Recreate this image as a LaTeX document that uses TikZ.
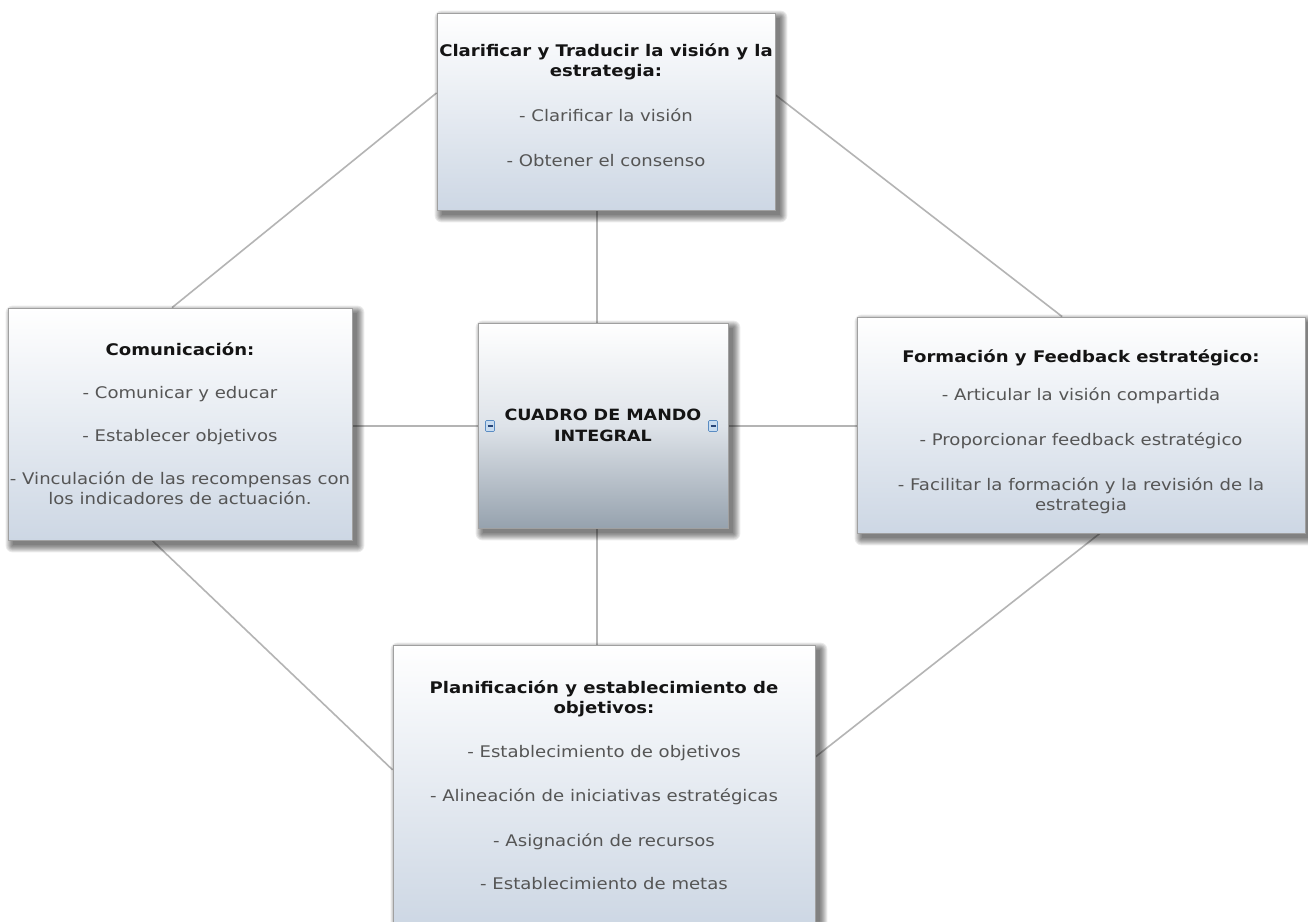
\documentclass[tikz,border=0pt]{standalone}
\usepackage{fontspec}
\setmainfont{DejaVu Sans}[FakeStretch=1.13]
\usetikzlibrary{calc,backgrounds}

\definecolor{edgegray}{RGB}{160,160,160}
\definecolor{linkgray}{RGB}{180,180,180}
\definecolor{boxbottom}{RGB}{205,215,228}
\definecolor{hubmid}{RGB}{222,227,233}
\definecolor{hubbottom}{RGB}{150,162,174}
\definecolor{titlecol}{RGB}{20,20,20}
\definecolor{itemcol}{RGB}{85,85,85}
\definecolor{iconfill}{RGB}{200,220,240}
\definecolor{iconedge}{RGB}{90,140,195}
\definecolor{icondash}{RGB}{40,70,120}

\newcommand{\ttl}[1]{{\bfseries\color{titlecol}#1}}
\newcommand{\itm}[1]{{\color{itemcol}#1}}

% soft shadow below and right of a panel, built from stacked translucent rectangles
\newcommand{\castshadow}[1]{%
  \foreach \r in {0,1,...,7}{%
    \fill[black, opacity=0.08, rounded corners=\r pt]
      ($(#1.north west)+(5-\r,5-\r)$) rectangle ($(#1.south east)+(5+\r,5+\r)$);
  }}

\tikzset{
  panel/.style={draw=edgegray, line width=0.8pt, top color=white, bottom color=boxbottom,
    align=center, inner sep=0pt, font=\fontsize{16}{20}\selectfont},
  hub/.style={panel, top color=white, bottom color=hubbottom, middle color=hubmid,
    font=\fontsize{15.5}{20.5}\selectfont\bfseries\color{titlecol}},
  link/.style={draw=linkgray, line width=1.6pt},
  toggle/.style={draw=iconedge, fill=iconfill, minimum width=9pt, minimum height=11pt,
    inner sep=0pt, line width=0.6pt, rounded corners=1pt,
    path picture={\draw[icondash, line width=1.4pt]
      ($(path picture bounding box.west)+(2pt,0pt)$) -- ($(path picture bounding box.east)+(-2pt,0pt)$);}}
}

\begin{document}
\begin{tikzpicture}[x=1pt,y=-1pt]
\useasboundingbox (0,0) rectangle (1308,921);
\clip (0,0) rectangle (1308,921);

% the five panels
\node[panel, minimum width=338pt, minimum height=197pt] (T) at (606,111.5)
  {\ttl{Clarificar y Traducir la visión y la}\\\ttl{estrategia:}\\[25pt]
   \itm{- Clarificar la visión}\\[25pt]\itm{- Obtener el consenso}\\[-8pt]\mbox{}};

\node[hub, minimum width=250pt, minimum height=205pt] (C) at (603,425.5)
  {CUADRO DE MANDO\\INTEGRAL};

\node[panel, minimum width=344pt, minimum height=232pt] (L) at (180,424)
  {\ttl{Comunicación:}\\[23pt]\itm{- Comunicar y educar}\\[23pt]
   \itm{- Establecer objetivos}\\[23pt]
   \itm{- Vinculación de las recompensas con}\\\itm{los indicadores de actuación.}};

\node[panel, minimum width=448pt, minimum height=216pt] (R) at (1081,425)
  {\rule{0pt}{26pt}\ttl{Formación y Feedback estratégico:}\\[18pt]\itm{- Articular la visión compartida}\\[25pt]
   \itm{- Proporcionar feedback estratégico}\\[25pt]
   \itm{- Facilitar la formación y la revisión de la}\\\itm{estrategia}};

\node[panel, minimum width=422pt, minimum height=280pt] (B) at (604,785)
  {\ttl{Planificación y establecimiento de}\\\ttl{objetivos:}\\[24pt]
   \itm{- Establecimiento de objetivos}\\[24pt]
   \itm{- Alineación de iniciativas estratégicas}\\[25pt]
   \itm{- Asignación de recursos}\\[23pt]
   \itm{- Establecimiento de metas}};

% collapse toggles on the hub
\node[toggle] (tl) at (490,426) {};
\node[toggle] (tr) at (713,426) {};

\coordinate (vx) at (597,0);

\begin{scope}[on background layer]
  \fill[white] (0,0) rectangle (1308,921);
  % spokes
  \draw[link] (tl.west -| L.east) -- (tl.west);
  \draw[link] (tr.east) -- (tr.east -| R.west);
  \draw[link] (T.south -| vx) -- (C.north -| vx);
  \draw[link] (C.south -| vx) -- (B.north -| vx);
  % ring
  \draw[link] ($(L.north west)!0.477!(L.north east)$) -- ($(T.north west)!0.406!(T.south west)$);
  \draw[link] ($(T.north east)!0.416!(T.south east)$) -- ($(R.north west)!0.458!(R.north east)$);
  \draw[link] ($(L.south west)!0.419!(L.south east)$) -- ($(B.north west)!0.446!(B.south west)$);
  \draw[link] ($(R.south west)!0.542!(R.south east)$) -- ($(B.north east)!0.40!(B.south east)$);
  % shadows
  \castshadow{T}\castshadow{C}\castshadow{L}\castshadow{R}\castshadow{B}
\end{scope}
\end{tikzpicture}
\end{document}
